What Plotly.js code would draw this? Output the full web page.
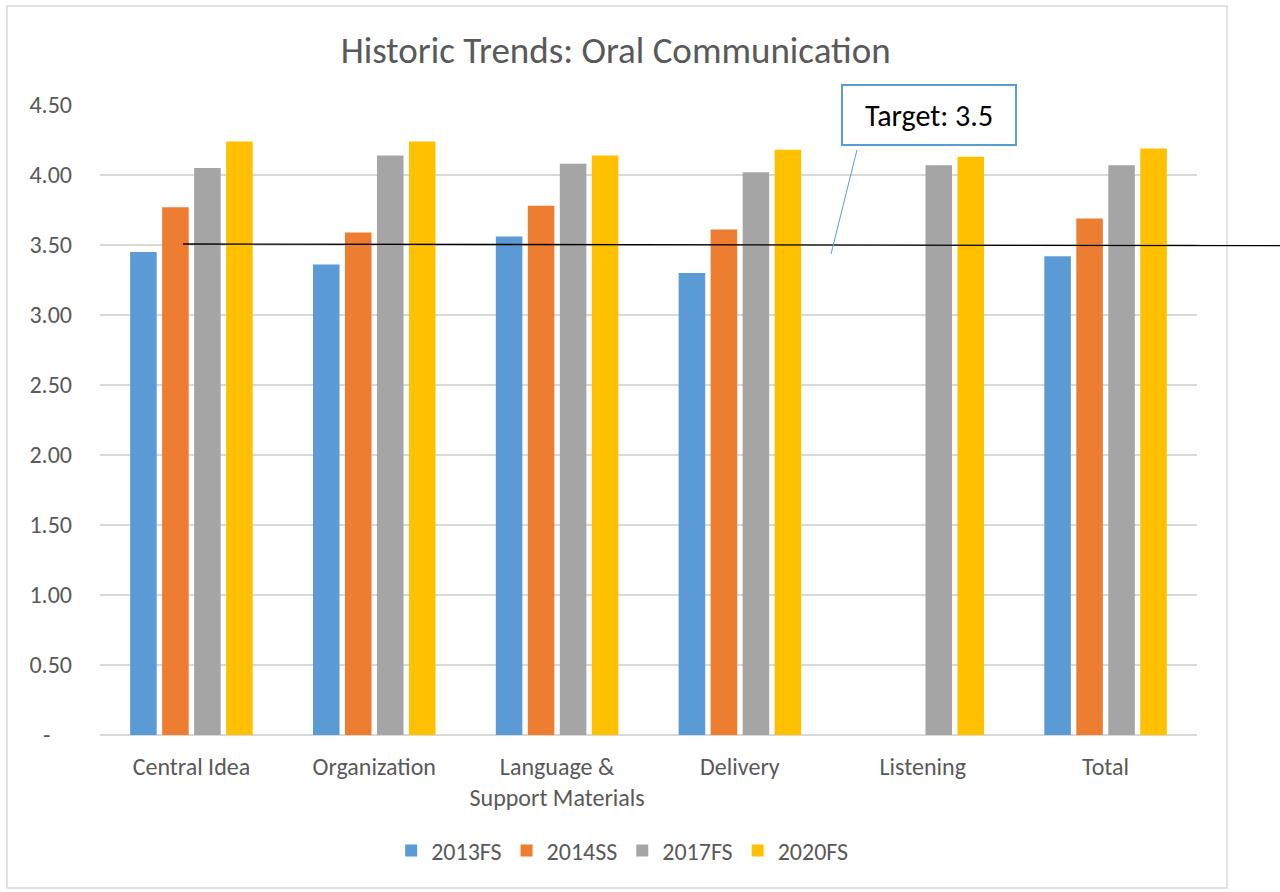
<!DOCTYPE html>
<html>
<head>
<meta charset="utf-8">
<script src="https://cdn.plot.ly/plotly-3.0.1.min.js"></script>
<style>html,body{margin:0;padding:0;background:#fff;}#chart{width:1280px;height:892px;}</style>
</head>
<body>
<div id="chart"></div>
<script>
const categories = ["Central Idea", "Organization", "Language &<br>Support Materials", "Delivery", "Listening", "Total"];
const seriesNames = ["2013FS", "2014SS", "2017FS", "2020FS"];
const s2013FS = [3.45, 3.36, 3.56, 3.30, null, 3.42];
const s2014SS = [3.77, 3.59, 3.78, 3.61, null, 3.69];
const s2017FS = [4.05, 4.14, 4.08, 4.02, 4.07, 4.07];
const s2020FS = [4.24, 4.24, 4.14, 4.18, 4.13, 4.19];
const colors = ["#5B9BD5", "#ED7D31", "#A5A5A5", "#FFC000"];
const tickVals = [0, 0.5, 1, 1.5, 2, 2.5, 3, 3.5, 4, 4.5];
const tickText = ["-\u00a0\u00a0\u00a0\u00a0", "0.50", "1.00", "1.50", "2.00", "2.50", "3.00", "3.50", "4.00", "4.50"];
const targetValue = 3.5;

const seriesData = [s2013FS, s2014SS, s2017FS, s2020FS];
const traces = seriesData.map((vals, i) => ({
  type: "bar",
  name: seriesNames[i],
  x: categories,
  y: vals,
  marker: {color: colors[i]},
  hoverinfo: "x+y+name"
}));

const font = "Carlito, Calibri, 'Open Sans', 'Liberation Sans', sans-serif";
const layout = {
  width: 1280, height: 892,
  margin: {l: 100, r: 83, t: 105, b: 157},
  paper_bgcolor: "#ffffff", plot_bgcolor: "#ffffff",
  font: {family: font, color: "#595959", size: 24},
  title: {text: "Historic Trends: Oral Communication", x: 0.481, xref: "container", xanchor: "center", y: 0.944, yref: "container", yanchor: "middle", font: {size: 37, color: "#595959", family: font}},
  barmode: "group",
  bargap: 0.30,
  bargroupgap: 0.17,
  xaxis: {tickfont: {size: 24, color: "#595959"}, showline: false, ticks: "", ticklabelstandoff: 15},
  yaxis: {range: [0, 4.5], tickvals: tickVals, ticktext: tickText, gridcolor: "#d9d9d9", gridwidth: 1.3, zeroline: true, zerolinecolor: "#d9d9d9", zerolinewidth: 1.5, tickfont: {size: 24, color: "#595959"}, ticklabelstandoff: 27},
  legend: {orientation: "h", x: 0.476, xanchor: "center", y: -0.184, yanchor: "middle", font: {size: 24, color: "#595959"}, itemwidth: 30, traceorder: "normal"},
  shapes: [
    {type: "rect", xref: "paper", yref: "paper", x0: -0.0848, x1: 1.0274, y0: -0.2429, y1: 1.157, line: {color: "#d9d9d9", width: 1.5}, layer: "below"},
    {type: "line", xref: "paper", yref: "y", x0: 0.0757, x1: 1.0757, y0: targetValue + 0.007, y1: targetValue - 0.005, line: {color: "#000000", width: 1.3}},
    {type: "line", xref: "paper", yref: "paper", x0: 0.690, y0: 0.9286, x1: 0.6664, y1: 0.7635, line: {color: "#5B9BD5", width: 1}}
  ],
  annotations: [
    {xref: "paper", yref: "paper", x: 0.7557, y: 0.984, xanchor: "center", yanchor: "middle", text: "Target: " + targetValue, showarrow: false, font: {size: 30, color: "#000000", family: font}, bordercolor: "#5B9BD5", borderwidth: 2, bgcolor: "#ffffff", width: 170, height: 56}
  ]
};
Plotly.newPlot("chart", traces, layout, {displayModeBar: false, staticPlot: true});
</script>
</body>
</html>
